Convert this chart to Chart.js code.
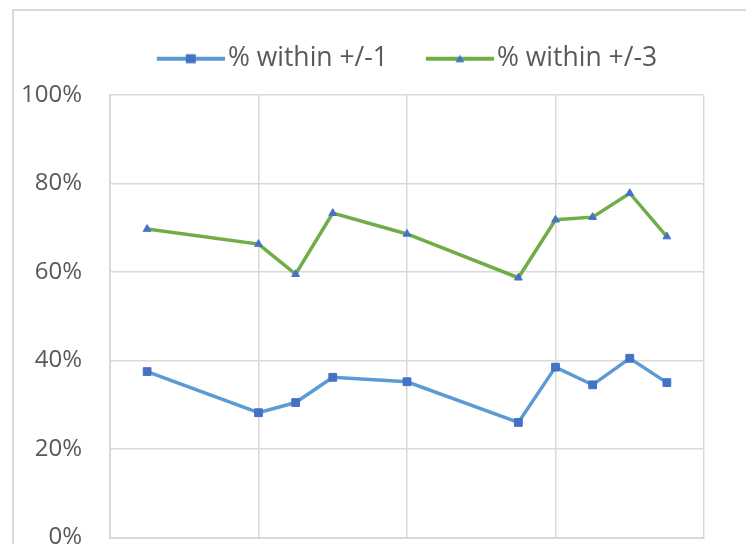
<!DOCTYPE html>
<html>
<head>
<meta charset="utf-8">
<script src="https://cdn.jsdelivr.net/npm/chart.js@4.4.1/dist/chart.umd.min.js"></script>
<style>
  html, body { margin: 0; padding: 0; background: #fff; overflow: hidden; }
  #wrap { position: relative; width: 746px; height: 544px; }
  #frame { position: absolute; left: 12px; top: 9px; width: 800px; height: 600px; border: 2px solid #d9d9d9; box-sizing: border-box; }
  canvas { position: absolute; left: 0; top: 0; }
</style>
</head>
<body>
<div id="wrap">
  <div id="frame"></div>
  <canvas id="chart" width="746" height="544"></canvas>
</div>
<script>
// data (x positions in grid units, y in %)
const xValues = [1, 4, 5, 6, 8, 11, 12, 13, 14, 15];
const within1 = [37.5, 28.2, 30.5, 36.2, 35.2, 26.0, 38.5, 34.5, 40.5, 35.0];
const within3 = [69.7, 66.3, 59.5, 73.3, 68.6, 58.7, 71.8, 72.4, 77.8, 68.0];
const seriesNames = ['% within +/-1', '% within +/-3'];
const yTicks = [0, 20, 40, 60, 80, 100];

const textColor = '#595959';
const gridColor = '#d9d9d9';
const markerColor = '#4472C4';
const fontFamily = "'Open Sans', sans-serif";

// line+marker picture for the legend; the blank strip on the left
// keeps the line starting at the legend item's own x
function legendIcon(lineColor, shape) {
    const c = document.createElement('canvas');
    c.width = 78;
    c.height = 12;
    const g = c.getContext('2d');
    g.strokeStyle = lineColor;
    g.lineWidth = 4;
    g.beginPath();
    g.moveTo(10, 6);
    g.lineTo(78, 6);
    g.stroke();
    g.fillStyle = markerColor;
    if (shape === 'rect') {
        g.fillRect(39, 1.5, 10, 9);
    } else {
        g.beginPath();
        g.moveTo(44, 2);
        g.lineTo(48.5, 9.5);
        g.lineTo(39.5, 9.5);
        g.closePath();
        g.fill();
    }
    return c;
}

const pts = vals => xValues.map((x, i) => ({x: x, y: vals[i]}));

// legend gets a fixed height so the plot starts where it should
const legendBox = {
    id: 'legendBox',
    beforeInit(chart) {
        const fit = chart.legend.fit;
        chart.legend.fit = function () {
            fit.call(this);
            this.height = 87.5;
        };
    }
};

const ctx = document.getElementById('chart').getContext('2d');
const chart = new Chart(ctx, {
    type: 'line',
    data: {
        datasets: [{
            label: seriesNames[0],
            data: pts(within1),
            borderColor: '#5B9BD5',
            borderWidth: 3.5,
            pointStyle: 'rect',
            pointRadius: 5.5,
            pointBackgroundColor: markerColor,
            pointBorderColor: markerColor,
            pointBorderWidth: 1,
            legendIcon: legendIcon('#5B9BD5', 'rect')
        }, {
            label: seriesNames[1],
            data: pts(within3),
            borderColor: '#70AD47',
            borderWidth: 3.5,
            pointStyle: 'triangle',
            pointRadius: 4.5,
            pointBackgroundColor: markerColor,
            pointBorderColor: markerColor,
            pointBorderWidth: 1,
            legendIcon: legendIcon('#70AD47', 'triangle')
        }]
    },
    options: {
        responsive: false,
        animation: false,
        devicePixelRatio: 1,
        layout: {padding: {left: 0, right: 42, top: 7.5, bottom: 6.5}},
        elements: {line: {tension: 0}},
        plugins: {
            tooltip: {enabled: false},
            legend: {
                position: 'top',
                fullSize: false,
                labels: {
                    usePointStyle: true,
                    pointStyleWidth: 57.75,
                    padding: 38,
                    color: textColor,
                    font: {family: fontFamily, size: 26.5},
                    generateLabels: c => c.data.datasets.map((ds, i) => ({
                        text: ds.label,
                        pointStyle: ds.legendIcon,
                        fontColor: textColor,
                        datasetIndex: i,
                        lineWidth: 0
                    }))
                }
            }
        },
        scales: {
            x: {
                type: 'linear',
                min: 0,
                max: 16,
                ticks: {display: false, stepSize: 4},
                grid: {color: gridColor, lineWidth: 1.5, drawTicks: false},
                border: {color: gridColor, width: 2},
                afterFit: s => { s.height = 0; s.paddingLeft = 0; s.paddingRight = 0; }
            },
            y: {
                min: 0,
                max: 100,
                afterBuildTicks: s => { s.ticks = yTicks.map(v => ({value: v})); },
                ticks: {
                    padding: 28,
                    color: textColor,
                    font: {family: fontFamily, size: 24},
                    callback: v => v + '%'
                },
                grid: {color: gridColor, lineWidth: 1.5, drawTicks: false},
                border: {color: gridColor, width: 2},
                afterFit: s => { s.width = 110; s.paddingTop = 0; s.paddingBottom = 0; }
            }
        }
    },
    plugins: [legendBox]
});
</script>
</body>
</html>
